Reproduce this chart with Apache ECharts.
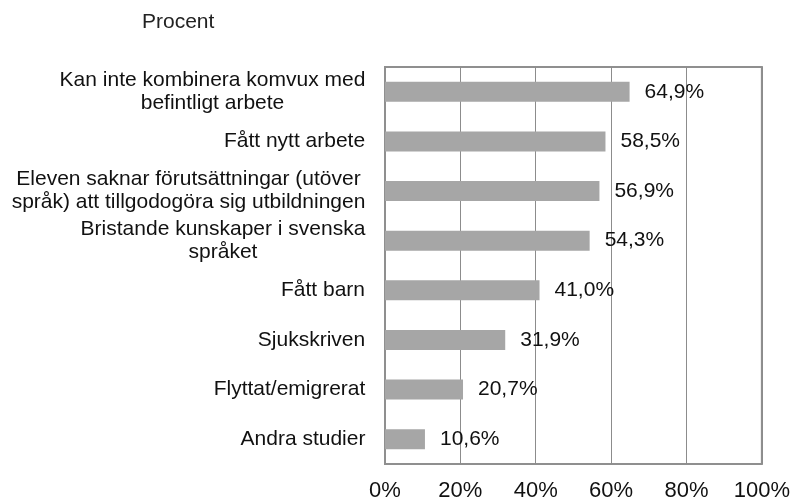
<!DOCTYPE html>
<html>
<head>
<meta charset="utf-8">
<script src="https://cdn.jsdelivr.net/npm/echarts@6/dist/echarts.min.js"></script>
<style>
    html, body { margin: 0; padding: 0; background: #fff; }
    #chart { width: 793px; height: 503px; }
</style>
</head>
<body>
<div id="chart"></div>
<script>
// skäl till avbrott, uppifrån och ned
const categories = [
    'Kan inte kombinera komvux med\nbefintligt arbete',
    'Fått nytt arbete',
    'Eleven saknar förutsättningar (utöver\nspråk) att tillgodogöra sig utbildningen',
    'Bristande kunskaper i svenska\nspråket',
    'Fått barn',
    'Sjukskriven',
    'Flyttat/emigrerat',
    'Andra studier'
]
const values = [64.9, 58.5, 56.9, 54.3, 41.0, 31.9, 20.7, 10.6]
const xTicks = [0, 20, 40, 60, 80, 100]

const font = 'Liberation Sans'
const labelSize = 21

// varje rad centreras inom etikettens block, blocket högerjusteras mot axeln
const ctx = document.createElement('canvas').getContext('2d')
ctx.font = labelSize + 'px "' + font + '"'
const rich = {}
categories.forEach((c, i) => {
    const w = Math.max(...c.split('\n').map(l => ctx.measureText(l).width))
    rich['r' + i] = {
        width: Math.ceil(w) + 1,
        align: 'center',
        fontFamily: font,
        fontSize: labelSize,
        lineHeight: 23,
        color: '#111'
    }
})

const chart = echarts.init(document.getElementById('chart'))

const option = {
    animation: false,
    title: {
        text: 'Procent',
        left: 137,
        top: 7,
        textStyle: {
            fontFamily: font,
            fontSize: 21,
            fontWeight: 'normal',
            color: '#222'
        }
    },
    grid: {
        left: 385,
        right: 31,
        top: 67,
        bottom: 39,
        show: true,
        borderColor: '#8f8f8f',
        borderWidth: 2
    },
    xAxis: {
        type: 'value',
        min: xTicks[0],
        max: xTicks[xTicks.length - 1],
        interval: 20,
        axisLine: { show: false },
        axisTick: { show: false },
        splitLine: {
            lineStyle: { color: '#8c8c8c', width: 1 }
        },
        axisLabel: {
            margin: 16,
            fontFamily: font,
            fontSize: 22,
            color: '#111',
            formatter: v => v + '%'
        }
    },
    yAxis: {
        type: 'category',
        inverse: true,
        data: categories,
        axisLine: { lineStyle: { color: '#8f8f8f', width: 2 } },
        axisTick: {
            inside: true,
            length: 6,
            lineStyle: { color: '#aaa' }
        },
        axisLabel: {
            margin: 19,
            align: 'right',
            formatter: (v, i) => v.split('\n').map(l => '{r' + i + '|' + l + '}').join('\n'),
            rich: rich
        }
    },
    series: [{
        type: 'bar',
        data: values,
        barWidth: 20,
        itemStyle: { color: '#a6a6a6' },
        label: {
            show: true,
            position: 'right',
            distance: 15,
            fontFamily: font,
            fontSize: 21,
            color: '#111',
            formatter: p => p.value.toFixed(1).replace('.', ',') + '%'
        }
    }]
}

chart.setOption(option)
</script>
</body>
</html>
